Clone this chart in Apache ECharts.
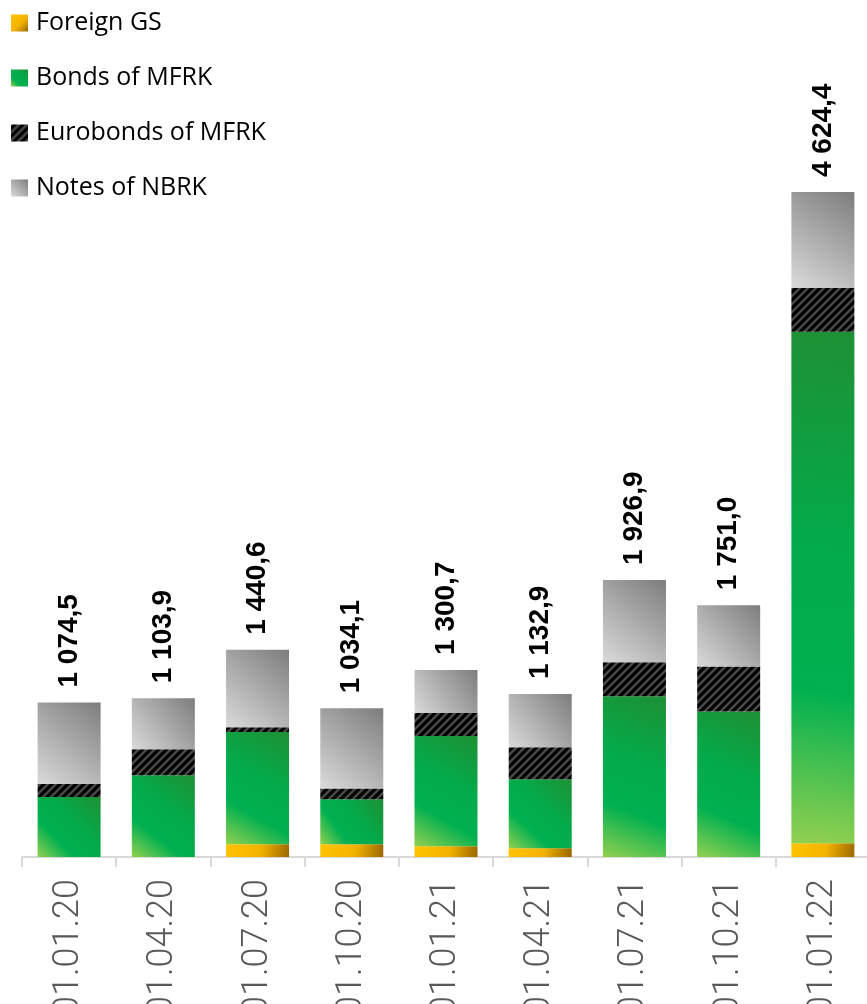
<!DOCTYPE html>
<html>
<head>
<meta charset="utf-8">
<script src="https://cdn.jsdelivr.net/npm/echarts@6/dist/echarts.min.js"></script>
<style>
html,body{margin:0;padding:0;background:#fff;}
#chart{width:867px;height:1004px;}
</style>
</head>
<body>
<div id="chart"></div>
<script>
const categories = ['01.01.20','01.04.20','01.07.20','01.10.20','01.01.21','01.04.21','01.07.21','01.10.21','01.01.22'];
const foreignGS   = [0,    0,    88,  88,  75,  61,  0,    0,    95];
const bondsMFRK   = [417,  568,  781, 313, 766, 480, 1118, 1012, 3557];
const eurobonds   = [91,   181,  33,  76,  160, 223, 237,  313,  306];
const notesNBRK   = [566.5,354.9,538.6,557.1,299.7,368.9,571.9,426,666.4];
const totals      = [1074.5,1103.9,1440.6,1034.1,1300.7,1132.9,1926.9,1751.0,4624.4];

function fmt(v){
  const parts = v.toFixed(1).split('.');
  const int = parts[0].replace(/\B(?=(\d{3})+(?!\d))/g, ' ');
  return int + ',' + parts[1];
}

// hatch pattern for eurobonds
const pc = document.createElement('canvas');
pc.width = 8; pc.height = 8;
const ctx = pc.getContext('2d');
ctx.fillStyle = '#000000';
ctx.fillRect(0,0,8,8);
ctx.strokeStyle = '#4a4a4a';
ctx.lineWidth = 2.4;
ctx.beginPath();
ctx.moveTo(-1,9); ctx.lineTo(9,-1);
ctx.moveTo(-5,5); ctx.lineTo(5,-5);
ctx.moveTo(3,13); ctx.lineTo(13,3);
ctx.stroke();

const goldGrad = {type:'linear',x:0,y:0,x2:1,y2:1,colorStops:[
  {offset:0,color:'#FFC400'},{offset:0.55,color:'#F2B300'},{offset:1,color:'#9A6600'}]};
const greenGrad = {type:'linear',x:0,y:1,x2:1,y2:0,colorStops:[
  {offset:0,color:'#92D050'},{offset:0.3,color:'#00B050'},{offset:0.6,color:'#04AA4A'},{offset:1,color:'#1E9034'}]};
const grayGrad = {type:'linear',x:0,y:1,x2:1,y2:0,colorStops:[
  {offset:0,color:'#DADADA'},{offset:1,color:'#7D7D7D'}]};
const hatch = {image: pc, repeat: 'repeat'};

const chart = echarts.init(document.getElementById('chart'), null, {renderer:'canvas'});
const barW = 63;
chart.setOption({
  animation:false,
  backgroundColor:'#ffffff',
  legend:{
    orient:'vertical', left:6, top:5,
    itemWidth:17, itemHeight:17, itemGap:29,
    icon:'rect',
    textStyle:{fontFamily:'Open Sans', fontSize:25, lineHeight:26, color:'#000', padding:[0,0,0,3]},
    data:['Foreign GS','Bonds of MFRK','Eurobonds of MFRK','Notes of NBRK']
  },
  grid:{left:22, width:848, top:138, bottom:147, containLabel:false, outerBoundsMode:'none'},
  xAxis:{
    type:'category', data:categories,
    axisLine:{lineStyle:{color:'#D9D9D9', width:2}},
    axisTick:{show:true, alignWithLabel:false, length:10, lineStyle:{color:'#D9D9D9', width:2}},
    axisLabel:{rotate:90, margin:22, fontFamily:'Roboto', fontWeight:300, fontSize:36, color:'#595959', interval:0}
  },
  yAxis:{type:'value', min:0, max:5000, show:false, splitLine:{show:false}},
  series:[
    {name:'Foreign GS', type:'bar', stack:'a', barWidth:barW, data:foreignGS, itemStyle:{color:goldGrad}},
    {name:'Bonds of MFRK', type:'bar', stack:'a', barWidth:barW, data:bondsMFRK, itemStyle:{color:greenGrad}},
    {name:'Eurobonds of MFRK', type:'bar', stack:'a', barWidth:barW, data:eurobonds, itemStyle:{color:hatch}},
    {name:'Notes of NBRK', type:'bar', stack:'a', barWidth:barW, data:notesNBRK, itemStyle:{color:grayGrad},
      label:{show:true, position:'top', distance:15, rotate:90, align:'left', verticalAlign:'middle',
        fontFamily:'Liberation Sans', fontWeight:'bold', fontSize:28, color:'#000',
        formatter:p=>fmt(totals[p.dataIndex])}}
  ]
});
</script>
</body>
</html>
